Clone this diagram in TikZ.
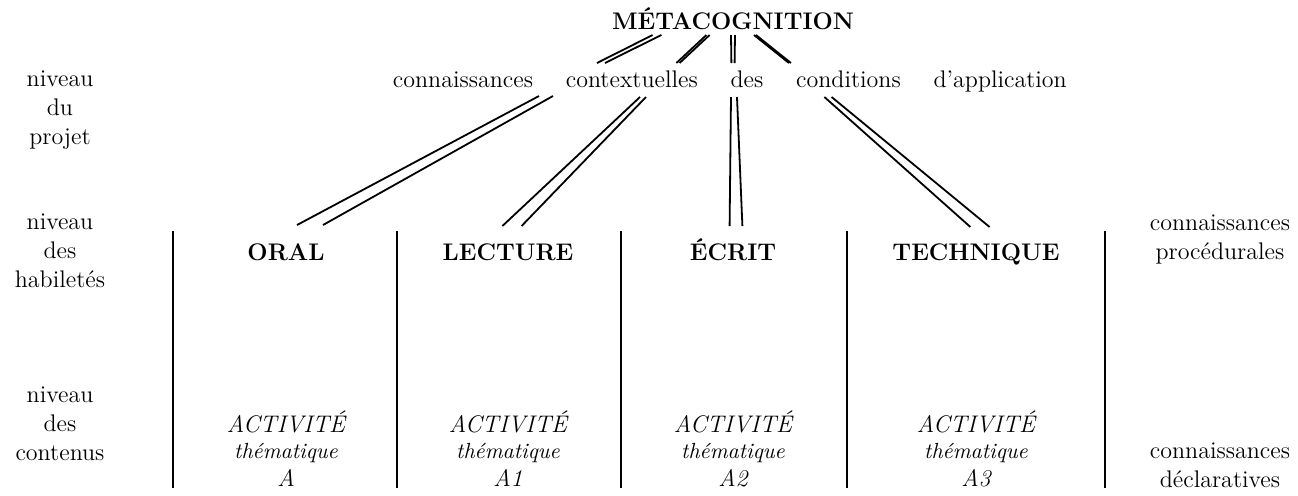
\documentclass[tikz,border=0pt,12pt]{standalone}
\usetikzlibrary{positioning}

\begin{document}
\begin{tikzpicture}[x=0.5pt,y=-0.5pt,node distance=16pt,
  txt/.style={anchor=base,align=center,inner sep=0pt},
  head/.style={txt,font=\bfseries},
  act/.style={txt,font=\itshape},
  link/.style={line width=0.9pt},
  bar/.style={line width=1.1pt}]
\useasboundingbox (0,0) rectangle (1298,495);

% levels on the left (base = last line)
\node[txt](projet) at (60,144){niveau\\du\\projet};
\node[txt](habil) at (60,287){niveau\\des\\habilet\'es};
\node[txt](conten) at (60,460){niveau\\des\\contenus};

% top
\node[head](meta) at (733,29){M\'ETACOGNITION};
\node[txt](kconn) at (463,87){connaissances};
\node[txt,base right=of kconn](kctx){contextuelles};
\node[txt,base right=of kctx](kdes){des};
\node[txt,base right=of kdes](kcond){conditions};
\node[txt,base right=of kcond](kappl){d'application};

% columns
\foreach \x in {173,397,621,847,1105}
  \draw[bar] (\x,231) -- (\x,488);
\foreach \x/\n/\h/\a in {286/oral/ORAL/A,508/lect/LECTURE/A1,733/ecr/\'ECRIT/A2,976/tech/TECHNIQUE/A3}{
  \node[head](\n) at (\x,260){\h};
  \node[act](act-\n) at (\x,486){ACTIVIT\'E\\[-1.5pt]{\small th\'ematique}\\[-0.5pt]\a};
}

% right side
\node[txt](proc) at (1220,259){connaissances\\proc\'edurales};
\node[txt](decl) at (1220,487){connaissances\\d\'eclaratives};

% double links
\coordinate (a1) at (657,35); \coordinate (b1) at (601,63);
\coordinate (c1) at (546,96); \coordinate (d1) at (310,225);
\coordinate (a2) at (708,35); \coordinate (b2) at (678,63);
\coordinate (c2) at (643,97); \coordinate (d2) at (512,226);
\coordinate (a3) at (733,35); \coordinate (b3) at (733,63);
\coordinate (c3) at (734,97); \coordinate (d3) at (736,226);
\coordinate (a4) at (755,35); \coordinate (b4) at (790,63);
\coordinate (c4) at (828,97); \coordinate (d4) at (980,227);
\foreach \p/\q/\s/\t in {a1/b1/2.2/2,c1/d1/3.5/6.5,a2/b2/0.8/0.8,c2/d2/1.5/4.8,
    a3/b3/1/0.8,c3/d3/1.5/3.2,a4/b4/0.5/0.5,c4/d4/1.8/4.8}{
  \draw[link] ([xshift=-\s pt]\p) -- ([xshift=-\t pt]\q);
  \draw[link] ([xshift=\s pt]\p) -- ([xshift=\t pt]\q);
}
\end{tikzpicture}
\end{document}
